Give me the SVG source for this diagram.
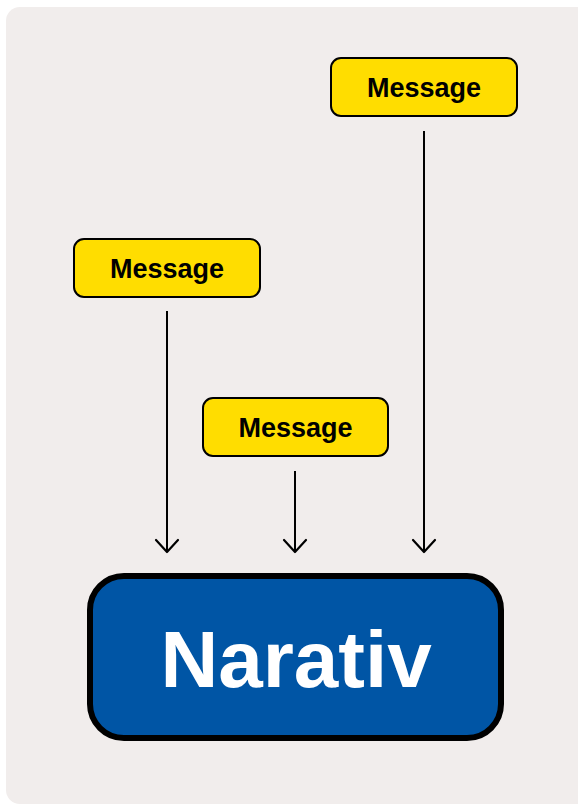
<svg xmlns="http://www.w3.org/2000/svg" width="578" height="805" viewBox="0 0 578 805">
<style>
.msg rect{fill:#ffdd00;stroke:#000;stroke-width:2}
.msg text{font-family:"Liberation Sans",Arial,sans-serif;font-weight:bold;font-size:27px;fill:#000;text-anchor:middle}
.conn line{stroke:#000;stroke-width:2}
.conn path{fill:none;stroke:#000;stroke-width:2.2;stroke-linecap:round;stroke-linejoin:round}
</style>
<rect x="6" y="7" width="600" height="797" rx="14" fill="#f1edec"/>
<g id="msg1" class="msg"><rect x="331" y="58" width="186" height="58" rx="10"/><text x="424" y="97">Message</text></g>
<g id="msg2" class="msg"><rect x="74" y="239" width="186" height="58" rx="10"/><text x="167" y="278">Message</text></g>
<g id="msg3" class="msg"><rect x="203" y="398" width="185" height="58" rx="10"/><text x="295.5" y="437">Message</text></g>
<g id="connectors" class="conn">
<line x1="167" y1="311" x2="167" y2="552"/><path d="M156 540 L167 552 L178 540"/>
<line x1="295" y1="471" x2="295" y2="552"/><path d="M284 540 L295 552 L306 540"/>
<line x1="424" y1="131" x2="424" y2="552"/><path d="M413 540 L424 552 L435 540"/>
</g>
<g id="narativ">
<rect x="90" y="576" width="411" height="162" rx="34" fill="#0055a5" stroke="#000" stroke-width="6"/>
<text x="296" y="687" font-family="Liberation Sans,Arial,sans-serif" font-weight="bold" font-size="80" fill="#fff" text-anchor="middle">Narativ</text>
</g>
</svg>
